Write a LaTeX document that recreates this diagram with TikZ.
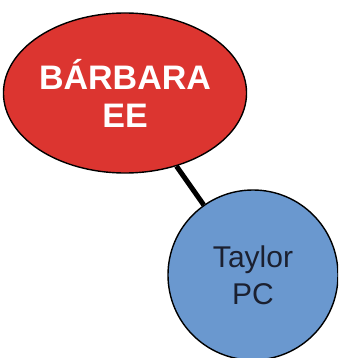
\documentclass[tikz,border=0pt]{standalone}
\usepackage{fontspec}
\setmainfont{Liberation Sans}
\usetikzlibrary{shapes.geometric}
\definecolor{nodered}{HTML}{DC3530}
\definecolor{nodeblue}{HTML}{6A98CF}
\definecolor{darktext}{HTML}{1B2030}
\tikzset{
  redbox/.style={ellipse, draw=black, line width=1.4pt, fill=nodered, inner sep=0pt,
    minimum width=236pt, minimum height=160pt, align=center, text=white,
    font=\bfseries\fontsize{34}{38}\selectfont},
  bluebox/.style={circle, draw=black, line width=1.4pt, fill=nodeblue, inner sep=0pt,
    minimum size=170pt, align=center, text=darktext,
    font=\fontsize{30}{37}\selectfont},
  link/.style={line width=5pt, black}
}
\begin{document}
\begin{tikzpicture}[x=1pt,y=-1pt]
\useasboundingbox (0,0) rectangle (338,358);
\clip (0,0) rectangle (338,358);
\node[redbox] (bar) at (125,93) {BÁRBARA\\EE};
\node[bluebox] (tay) at (253,275) {Taylor\\PC};
\draw[link] (bar) -- (tay);
\end{tikzpicture}
\end{document}
